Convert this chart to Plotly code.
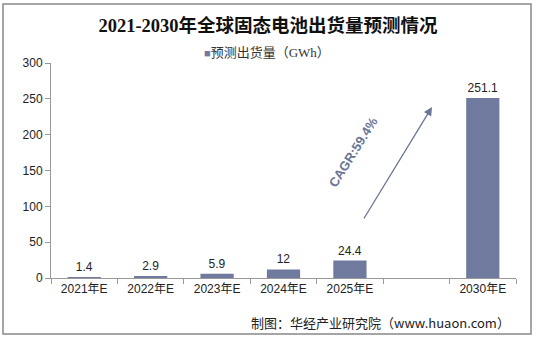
import plotly.graph_objects as go

categories = ["2021年E", "2022年E", "2023年E", "2024年E", "2025年E", " ", "2030年E"]
shipments = [1.4, 2.9, 5.9, 12, 24.4, None, 251.1]
series_name = "预测出货量（GWh）"
title_text = "2021-2030年全球固态电池出货量预测情况"
cagr_text = "CAGR:59.4%"
source_text = "制图：华经产业研究院（www.huaon.com）"
y_ticks = [0, 50, 100, 150, 200, 250, 300]

labels = ["" if v is None else f"{v:g}" for v in shipments]

SANS = "Arial, 'Liberation Sans', 'Noto Sans CJK SC', sans-serif"
SERIF = "'Times New Roman', 'Liberation Serif', 'Noto Sans CJK SC', serif"
BAR = "#6f7a9e"

W, H = 536, 338
L, R, T, B = 51, 20, 63, 60
pw, ph = W - L - R, H - T - B

def px(x):
    return (x - L) / pw

def py(y):
    return (H - B - y) / ph

fig = go.Figure()
fig.add_trace(go.Bar(
    x=categories, y=shipments, name=series_name,
    marker=dict(color=BAR, line=dict(width=0)),
    text=labels, textposition="outside", cliponaxis=False,
    textfont=dict(family=SANS, size=12, color="#222"),
    width=0.5, showlegend=False,
))

fig.update_layout(
    width=W, height=H,
    margin=dict(l=L, r=R, t=T, b=B),
    paper_bgcolor="white", plot_bgcolor="white",
    title=dict(text=f"<b>{title_text}</b>", x=0.5, xref="container", xanchor="center",
               y=1 - 26 / H, yref="container", yanchor="middle",
               font=dict(family=SERIF, size=18.5, color="#111")),
    showlegend=False,
    xaxis=dict(type="category", categoryorder="array", categoryarray=categories,
               showline=True, linecolor="#999", linewidth=1,
               ticks="outside", tickson="boundaries", ticklen=5, tickcolor="#999",
               tickfont=dict(family=SANS, size=12, color="#222"),
               showgrid=False, zeroline=False),
    yaxis=dict(range=[0, 300], tickvals=y_ticks,
               showline=True, linecolor="#999", linewidth=1,
               ticks="outside", ticklen=5, tickcolor="#999",
               tickfont=dict(family=SANS, size=12, color="#222"),
               showgrid=False, zeroline=False),
    bargap=0.5,
)

# legend (series key)
fig.add_annotation(xref="paper", yref="paper", x=px(267), y=py(52), xanchor="center",
                   yanchor="middle", showarrow=False,
                   text=f"<span style='color:{BAR};font-size:11px'>■</span>{series_name}",
                   font=dict(family=SERIF, size=13, color="#333"))
# CAGR arrow
fig.add_annotation(xref="paper", yref="paper", x=px(432), y=py(107),
                   ax=-69, ay=113, axref="pixel", ayref="pixel",
                   showarrow=True, arrowhead=2, arrowsize=1.3, arrowwidth=1.3,
                   arrowcolor="#6b7596", text="")
fig.add_annotation(xref="paper", yref="paper", x=px(383), y=py(152),
                   text=f"<b>{cagr_text}</b>", showarrow=False, textangle=-58,
                   font=dict(family=SANS, size=13, color="#6b7596"))
# source
fig.add_annotation(xref="paper", yref="paper", x=px(512), y=py(322), xanchor="right",
                   yanchor="middle", text=source_text, showarrow=False,
                   font=dict(family="'Noto Sans CJK SC', sans-serif", size=13, color="#222"))
# frame
fig.add_shape(type="rect", xref="paper", yref="paper",
              x0=px(3), x1=px(531), y0=py(334), y1=py(4),
              line=dict(color="#888", width=1.5), fillcolor="rgba(0,0,0,0)")

fig.write_html("out.html")
